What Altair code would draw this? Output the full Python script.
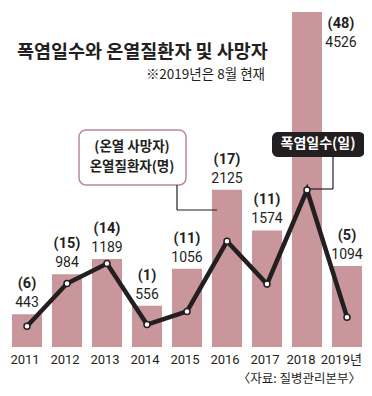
import altair as alt
import pandas as pd

years = ["2011", "2012", "2013", "2014", "2015", "2016", "2017", "2018", "2019"]
patients = [443, 984, 1189, 556, 1056, 2125, 1574, 4526, 1094]
deaths = [6, 15, 14, 1, 11, 17, 11, 48, 5]
heat_days = [7.5, 15.0, 18.5, 7.8, 10.1, 22.4, 14.9, 31.4, 9.1]

title_text = "폭염일수와 온열질환자 및 사망자"
subtitle_text = "※2019년은 8월 현재"
legend1_line1 = "(온열 사망자)"
legend1_line2 = "온열질환자(명)"
legend2_text = "폭염일수(일)"
source_text = "〈자료: 질병관리본부〉"
last_year_label = "2019년"

df = pd.DataFrame({"year": years, "patients": patients, "deaths": deaths, "days": heat_days})
df["death_label"] = ["(" + str(d) + ")" for d in deaths]

BAR = "#c9969b"
DARK = "#231f20"
NUM_FONT = "Roboto, Noto Sans CJK KR, sans-serif"
KR_FONT = "Noto Sans CJK KR"

xs = alt.Scale(domain=years, range=[-1, 359], paddingInner=0.25, paddingOuter=0.125)
ys = alt.Scale(domain=[0, 4580], range=[339, 0], nice=False, zero=True)
ds = alt.Scale(domain=[0, 60], range=[361, 19], nice=False, zero=True)

X = alt.X("year:N", scale=xs, axis=None, sort=years)
Y = alt.Y("patients:Q", scale=ys, axis=None)
Y0 = alt.Y("zero:Q", scale=ys, axis=None)

base = alt.Chart(df)

bars = base.mark_bar(color=BAR).encode(x=X, y=Y)

normal = base.transform_filter("datum.year != '2018'")
death_txt = normal.mark_text(font=NUM_FONT, fontSize=14.5, fontWeight="bold", color=DARK,
                             baseline="middle", dy=-30).encode(x=X, y=Y, text="death_label:N")
val_txt = normal.mark_text(font=NUM_FONT, fontSize=14, color=DARK,
                           baseline="middle", dy=-11).encode(x=X, y=Y, text="patients:Q")

top = base.transform_filter("datum.year == '2018'")
death_top = top.mark_text(font=NUM_FONT, fontSize=14.5, fontWeight="bold", color=DARK,
                          baseline="middle", dx=34, dy=12).encode(x=X, y=Y, text="death_label:N")
val_top = top.mark_text(font=NUM_FONT, fontSize=14, color=DARK,
                        baseline="middle", dx=34, dy=31).encode(x=X, y=Y, text="patients:Q")

year_lbl = base.transform_filter("datum.year != '2019' && datum.year != '2018'").transform_calculate(
    zero="0").mark_text(font=NUM_FONT, fontSize=13, color=DARK, baseline="middle", dy=13, dx=-2
).encode(x=X, y=Y0, text="year:N")
year_18 = base.transform_filter("datum.year == '2018'").transform_calculate(
    zero="0").mark_text(font=NUM_FONT, fontSize=13, color=DARK, baseline="middle", dy=13, dx=-6
).encode(x=X, y=Y0, text="year:N")
year_last = base.transform_filter("datum.year == '2019'").transform_calculate(
    zero="0", lbl="'" + last_year_label + "'"
).mark_text(font=NUM_FONT, fontSize=13, color=DARK, baseline="middle", align="right", dy=13, dx=15).encode(
    x=X, y=Y0, text="lbl:N")

one = alt.Data(values=[{"a": 1}])

box1 = alt.Chart(one).mark_rect(fill="white", stroke="#b98a8f", strokeWidth=1.5, cornerRadius=7).encode(
    x=alt.value(71), x2=alt.value(178), y=alt.value(122), y2=alt.value(177))
c1a = alt.Chart(one).mark_rule(color=DARK, strokeWidth=1.2).encode(
    x=alt.value(169), y=alt.value(177), y2=alt.value(202))
c1b = alt.Chart(one).mark_rule(color=DARK, strokeWidth=1.2).encode(
    x=alt.value(169), x2=alt.value(209), y=alt.value(202))
box2 = alt.Chart(one).mark_rect(fill=DARK, cornerRadius=6).encode(
    x=alt.value(264), x2=alt.value(357), y=alt.value(124), y2=alt.value(149))
c2a = alt.Chart(one).mark_rule(color=DARK, strokeWidth=1.2).encode(
    x=alt.value(325), y=alt.value(149), y2=alt.value(181))
c2b = alt.Chart(one).mark_rule(color=DARK, strokeWidth=1.2).encode(
    x=alt.value(299), x2=alt.value(325), y=alt.value(181))


def label(txt, x, y, size, weight="normal", align="left", color=DARK, font=KR_FONT):
    return alt.Chart(alt.Data(values=[{"t": txt}])).mark_text(
        font=font, fontSize=size, fontWeight=weight, align=align, baseline="middle", color=color
    ).encode(x=alt.value(x), y=alt.value(y), text="t:N")


title = label(title_text, 9, 44, 18.5, "bold")
subtitle = label(subtitle_text, 257, 67, 13.5, align="right")
leg1a = label(legend1_line1, 124, 139, 13.5, "bold", align="center")
leg1b = label(legend1_line2, 124, 159, 13.5, "bold", align="center")
leg2 = label(legend2_text, 310, 136, 14, "bold", align="center", color="white")
source = label(source_text, 353, 371, 12.5, align="right")

line = base.mark_line(color=DARK, strokeWidth=4.5).encode(
    x=X, y=alt.Y("days:Q", scale=ds, axis=None))
pts = base.mark_point(filled=True, fill="white", stroke=DARK, strokeWidth=1.5, size=36, opacity=1).encode(
    x=X, y=alt.Y("days:Q", scale=ds, axis=None))

chart = alt.layer(
    bars, death_txt, val_txt, death_top, val_top, year_lbl, year_18, year_last,
    box1, c1a, c1b, box2, c2a, c2b,
    title, subtitle, leg1a, leg1b, leg2, source,
    line, pts
).resolve_scale(y="independent").properties(
    width=356, height=380, autosize=alt.AutoSizeParams(type="none"), padding=0
).configure_view(stroke=None)

chart.save("out.html", embed_options={"renderer": "svg", "actions": False})
